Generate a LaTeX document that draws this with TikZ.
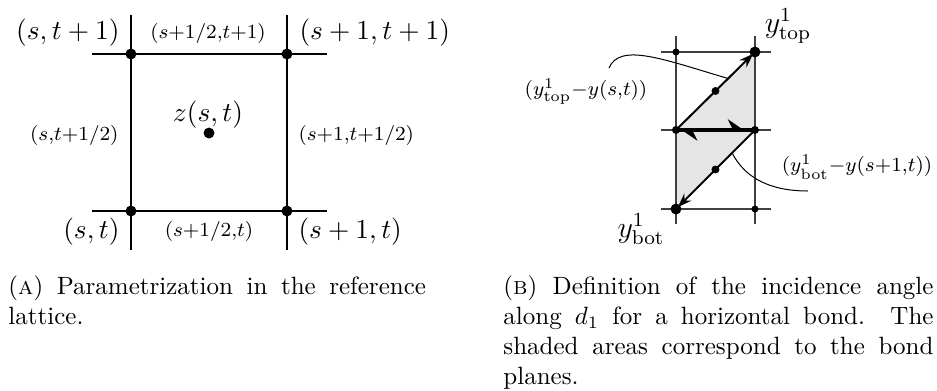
\documentclass[tikz,border=0pt]{standalone}
\usetikzlibrary{arrows.meta,calc}
\newcommand{\nohyph}{\hyphenpenalty=10000\exhyphenpenalty=10000\relax}
\tikzset{
  latline/.style={line width=0.95pt, draw=black},
  latdot/.style={circle, fill=black, inner sep=0pt, minimum size=0.154cm},
  sitelabel/.style={font=\fontsize{11.2}{13}\selectfont, inner sep=0pt},
  endlabel/.style={font=\fontsize{12}{14}\selectfont, inner sep=0pt},
  bondlabel/.style={font=\fontsize{11.6}{13}\selectfont, inner sep=0pt},
  gridline/.style={line width=0.45pt, draw=black!75},
  smalldot/.style={circle, fill=black, inner sep=0pt, minimum size=0.098cm},
  middot/.style={circle, fill=black, inner sep=0pt, minimum size=0.112cm},
  bigdot/.style={circle, fill=black, inner sep=0pt, minimum size=0.154cm},
  plane/.style={fill=black!10, draw=none},
  diag/.style={line width=0.8pt, -{Stealth[length=0.2cm, width=0.14cm]}, shorten >=1pt},
  bond/.style={line width=1.6pt, draw=black},
  leader/.style={line width=0.4pt, draw=black},
  captext/.style={anchor=north west, inner sep=0pt, align=justify,
    font=\fontsize{10}{12.1}\selectfont\nohyph},
}
\begin{document}
\begin{tikzpicture}
\useasboundingbox (0,0) rectangle (13.171,5.496);
% (a) reference lattice
\coordinate (hw1) at (1.293,4.737); \coordinate (he1) at (4.596,4.737);
\coordinate (hw0) at (1.293,2.530); \coordinate (he0) at (4.596,2.530);
\coordinate (vs0) at (1.841,1.982); \coordinate (vn0) at (1.841,5.285);
\coordinate (vs1) at (4.034,1.982); \coordinate (vn1) at (4.034,5.285);
\draw[latline] (hw1) -- (he1);
\draw[latline] (hw0) -- (he0);
\draw[latline] (vs0) -- (vn0);
\draw[latline] (vs1) -- (vn1);
\node[latdot] (st) at (1.841,2.530) {};
\node[latdot] (s1t) at (4.034,2.530) {};
\node[latdot] (st1) at (1.841,4.737) {};
\node[latdot] (s1t1) at (4.034,4.737) {};
\node[latdot] (zst) at (2.938,3.626) {};
\node[sitelabel, anchor=east] (lst1) at (1.687,5.031) {$(s,t+1)$};
\node[bondlabel] (lsht1) at (2.924,5.031) {$\scriptstyle(s+1/2,t+1)$};
\node[sitelabel, anchor=west] (ls1t1) at (4.203,5.031) {$(s+1,t+1)$};
\node[bondlabel, anchor=east] (lsth) at (1.673,3.598) {$\scriptstyle(s,t+1/2)$};
\node[sitelabel] (lzst) at (2.924,3.879) {$z(s,t)$};
\node[bondlabel, anchor=west] (ls1th) at (4.189,3.598) {$\scriptstyle(s+1,t+1/2)$};
\node[sitelabel, anchor=east] (lst) at (1.687,2.235) {$(s,t)$};
\node[bondlabel] (lsht) at (2.938,2.235) {$\scriptstyle(s+1/2,t)$};
\node[sitelabel, anchor=west] (ls1t) at (4.189,2.235) {$(s+1,t)$};
% (b) incidence angle
\coordinate (tl) at (9.502,4.765); \coordinate (tr) at (10.612,4.765);
\coordinate (ml) at (9.502,3.669); \coordinate (mr) at (10.612,3.669);
\coordinate (bl) at (9.502,2.558); \coordinate (br) at (10.612,2.558);
\fill[plane] (ml) -- (tr) -- (mr) -- cycle;
\fill[plane] (ml) -- (mr) -- (bl) -- cycle;
\coordinate (gw2) at (9.291,4.765); \coordinate (ge2) at (10.837,4.765);
\coordinate (gw1) at (9.291,3.669); \coordinate (ge1) at (10.837,3.669);
\coordinate (gw0) at (9.291,2.558); \coordinate (ge0) at (10.837,2.558);
\coordinate (gsl) at (9.502,2.347); \coordinate (gnl) at (9.502,4.990);
\coordinate (gsr) at (10.612,2.347); \coordinate (gnr) at (10.612,4.990);
\draw[gridline] (gw2) -- (ge2);
\draw[gridline] (gw1) -- (ge1);
\draw[gridline] (gw0) -- (ge0);
\draw[gridline] (gsl) -- (gnl);
\draw[gridline] (gsr) -- (gnr);
\draw[bond] (ml) -- (mr);
\draw[bond, {Stealth[left, length=0.22cm, width=0.3cm]}-{Stealth[left, length=0.22cm, width=0.3cm]},
  shorten <=1.5pt, shorten >=3.8pt] (ml) -- (mr);
\draw[diag] (ml) -- (tr);
\draw[diag] (mr) -- (bl);
\node[smalldot] (dtl) at (tl) {};
\node[smalldot] (dbr) at (br) {};
\node[middot] (dml) at (ml) {};
\node[middot] (dmr) at (mr) {};
\node[middot] (dup) at ($(ml)!0.5!(tr)$) {};
\node[middot] (ddn) at ($(mr)!0.5!(bl)$) {};
\node[bigdot] (ytop) at (tr) {};
\node[bigdot] (ybot) at (bl) {};
\node[endlabel] (lytop) at (11.076,5.130) {$y^1_{\mathrm{top}}$};
\node[endlabel] (lybot) at (9.010,2.277) {$y^1_{\mathrm{bot}}$};
\node[bondlabel] (lup) at (8.237,4.203) {$\scriptstyle(y^1_{\mathrm{top}}-y(s,t))$};
\node[bondlabel] (ldn) at (12.046,3.149) {$\scriptstyle(y^1_{\mathrm{bot}}-y(s+1,t))$};
\coordinate (cup) at (8.560,4.540);
\coordinate (cdn) at (11.357,2.811);
\draw[leader] (cup) .. controls (8.715,4.906) and (9.347,4.653) .. ($(ml)!0.66!(tr)$);
\draw[leader] ($(mr)!0.29!(bl)$) .. controls (10.472,2.994) and (10.823,2.811) .. (cdn);
% captions
\node[captext, text width=167pt] (capa) at (0.112,1.631)
  {(\textsc{a}) Parametrization in the reference lattice.};
\node[captext, text width=172pt] (capb) at (7.070,1.631)
  {(\textsc{b}) Definition of the incidence angle along $d_1$ for a horizontal bond. The shaded areas correspond to the bond planes.};
\end{tikzpicture}
\end{document}
